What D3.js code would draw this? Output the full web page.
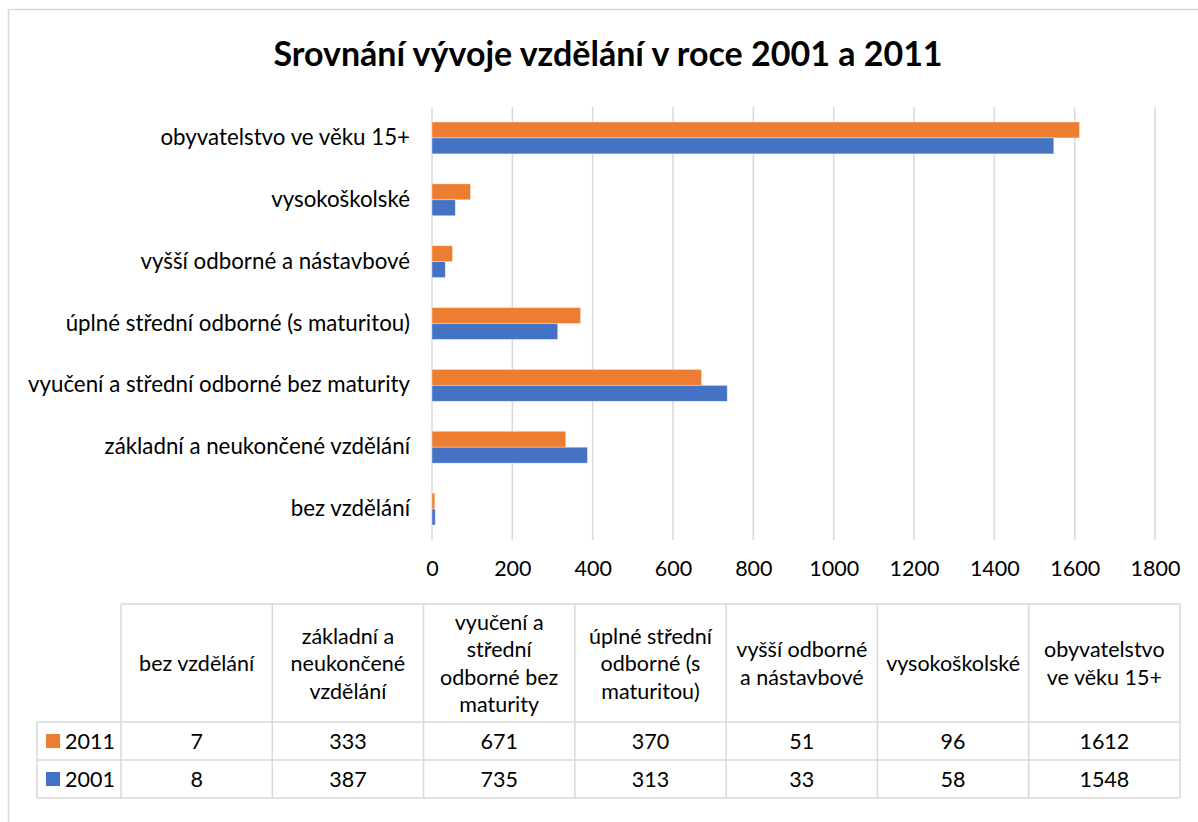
<!DOCTYPE html>
<html><head><meta charset="utf-8">
<script src="https://cdn.jsdelivr.net/npm/d3@7"></script>
<style>
body{margin:0;background:#fff}
svg{display:block}
text{font-family:Lato,"Open Sans",sans-serif;fill:#000}
</style>
</head><body>
<svg id="c" width="1198" height="822"></svg>
<script>
const title = "Srovnání vývoje vzdělání v roce 2001 a 2011";
const categories = ["bez vzdělání","základní a neukončené vzdělání","vyučení a střední odborné bez maturity","úplné střední odborné (s maturitou)","vyšší odborné a nástavbové","vysokoškolské","obyvatelstvo ve věku 15+"];
const headerLines = [["bez vzdělání"],["základní a","neukončené","vzdělání"],["vyučení a","střední","odborné bez","maturity"],["úplné střední","odborné (s","maturitou)"],["vyšší odborné","a nástavbové"],["vysokoškolské"],["obyvatelstvo","ve věku 15+"]];
const series = ["2011","2001"];
const values2011 = [7,333,671,370,51,96,1612];
const values2001 = [8,387,735,313,33,58,1548];
const seriesValues = [values2011, values2001];
const colors = ["#ED7D31","#4472C4"];
const tickValues = [0,200,400,600,800,1000,1200,1400,1600,1800];

const svg = d3.select("#c");
const gridColor = "#d9d9d9";
const fs = 21.5;
const fsCat = 22.3;

// outer border
svg.append("rect").attr("x",8.5).attr("y",9.5).attr("width",1220).attr("height",830)
  .attr("fill","none").attr("stroke",gridColor).attr("stroke-width",1.5);

svg.append("text").attr("x",608).attr("y",52).attr("text-anchor","middle")
  .attr("dominant-baseline","central").style("font-weight","bold").style("font-size","34px").text(title);

const x = d3.scaleLinear().domain([0,1800]).range([432,1155]);
const y = d3.scaleBand().domain(categories).range([540,107]).padding(0);
const groupH = y.bandwidth()/1.94;
const ySub = d3.scaleBand().domain(series).range([0,groupH]);

// gridlines
svg.append("g").selectAll("line").data(tickValues).join("line")
  .attr("x1",d=>x(d)).attr("x2",d=>x(d)).attr("y1",107).attr("y2",540)
  .attr("stroke",gridColor).attr("stroke-width",1.5);

// x axis labels
const xAxis = d3.axisBottom(x).tickValues(tickValues).tickSize(0).tickPadding(0).tickFormat(d3.format("d"));
const gx = svg.append("g").attr("transform","translate(0,561)").call(xAxis);
gx.select(".domain").remove();
gx.selectAll("text").style("font-size",fs+"px").attr("font-family",null).attr("fill","#000");

// y labels
const yAxis = d3.axisLeft(y).tickSize(0).tickPadding(0);
const gy = svg.append("g").attr("transform","translate(410,0)").call(yAxis);
gy.select(".domain").remove();
gy.selectAll("text").style("font-size",fsCat+"px").attr("fill","#000");

// bars
series.forEach((s,i)=>{
  svg.append("g").selectAll("rect").data(categories).join("rect")
    .attr("x",x(0))
    .attr("y",(c)=>y(c)+y.bandwidth()/2-groupH/2+ySub(s))
    .attr("width",(c,j)=>x(seriesValues[i][j])-x(0))
    .attr("height",ySub.bandwidth())
    .attr("fill",colors[i])
    .attr("stroke","#fff").attr("stroke-opacity",0.5).attr("stroke-width",0.75);
});

// table
const colX = d3.scaleBand().domain(categories).range([121,1180]);
const legendLeft = 37;
const rowY = [604,722,760,798];
const tb = svg.append("g");
const lineStyle = sel=>sel.attr("stroke",gridColor).attr("stroke-width",1.5);
tb.append("line").attr("x1",121).attr("x2",1180).attr("y1",rowY[0]).attr("y2",rowY[0]).call(lineStyle);
[1,2,3].forEach(r=>tb.append("line").attr("x1",legendLeft).attr("x2",1180).attr("y1",rowY[r]).attr("y2",rowY[r]).call(lineStyle));
tb.append("line").attr("x1",legendLeft).attr("x2",legendLeft).attr("y1",rowY[1]).attr("y2",rowY[3]).call(lineStyle);
categories.forEach(c=>tb.append("line").attr("x1",colX(c)).attr("x2",colX(c)).attr("y1",rowY[0]).attr("y2",rowY[3]).call(lineStyle));
tb.append("line").attr("x1",1180).attr("x2",1180).attr("y1",rowY[0]).attr("y2",rowY[3]).call(lineStyle);

// header text
const lh = 27.5;
categories.forEach((c,j)=>{
  const lines = headerLines[j];
  const cy = (rowY[0]+rowY[1])/2;
  const t = tb.append("text").attr("text-anchor","middle").style("font-size",fs+"px");
  lines.forEach((ln,k)=>{
    t.append("tspan").attr("x",colX(c)+colX.bandwidth()/2)
      .attr("y",cy+(k-(lines.length-1)/2)*lh).attr("dominant-baseline","central").text(ln);
  });
});
// data rows
series.forEach((s,i)=>{
  const cy = (rowY[i+1]+rowY[i+2])/2;
  tb.append("rect").attr("x",46).attr("y",cy-7).attr("width",14).attr("height",14).attr("fill",colors[i]);
  tb.append("text").attr("x",65).attr("y",cy).attr("dominant-baseline","central").style("font-size",fs+"px").text(s);
  categories.forEach((c,j)=>{
    tb.append("text").attr("x",colX(c)+colX.bandwidth()/2).attr("y",cy)
      .attr("text-anchor","middle").attr("dominant-baseline","central").style("font-size",fs+"px")
      .text(seriesValues[i][j]);
  });
});
</script>
</body></html>
